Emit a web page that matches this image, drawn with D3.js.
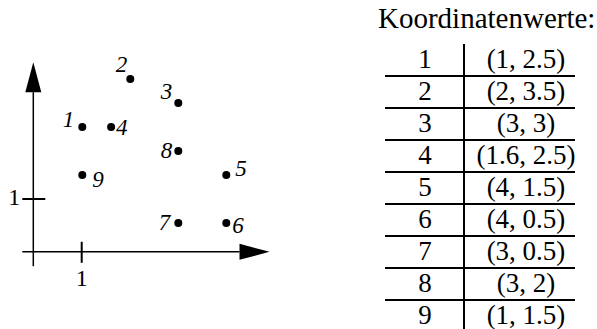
<!DOCTYPE html>
<html>
<head>
<meta charset="utf-8">
<script src="https://cdn.jsdelivr.net/npm/d3@7"></script>
<style>
	body { margin: 0; background: #fff; }
	svg { display: block; }
	text { font-family: "Liberation Serif", "Times New Roman", serif; fill: #000; }
</style>
</head>
<body>
<div id="main"></div>
<script>
// point numbers and their coordinates
var pointIds = [1, 2, 3, 4, 5, 6, 7, 8, 9];
var xValues = [1, 2, 3, 1.6, 4, 4, 3, 3, 1];
var yValues = [2.5, 3.5, 3, 2.5, 1.5, 0.5, 0.5, 2, 1.5];

// tick labels on both axes
var xTicks = [1];
var yTicks = [1];

var tableTitle = "Koordinatenwerte:";

// layout only: where each number sits next to its dot (dx, dy, anchor)
var LABEL_OFFSETS = [
	[-8, 0, "end"], [-3, -7, "end"], [-6, -4, "end"],
	[5, 8, "start"], [9, 1, "start"], [6, 10, "start"],
	[-8, 7, "end"], [-6, 7, "end"], [10, 12, "start"]
];

var width = 597, height = 329;

var svg = d3.select("#main").append("svg")
	.attr("width", width)
	.attr("height", height);

// scales for the little coordinate system
var x = d3.scaleLinear().domain([0, 4]).range([34.3, 226.3]);
var y = d3.scaleLinear().domain([0, 4]).range([247, 55]);

var xExtent = [-0.25, 4.9],	// axis lines, data units
	yExtent = [-0.4, 3.85],
	axisX0 = x(0) - 1,
	axisY0 = y(-0.1);
var ARROW_LEN = 30, ARROW_HALF = 8;

var g = svg.append("g");

// x axis with arrow
g.append("line")
	.attr("x1", x(xExtent[0])).attr("x2", x(xExtent[1]) - ARROW_LEN)
	.attr("y1", axisY0).attr("y2", axisY0)
	.style("stroke", "#000").style("stroke-width", 1.5);
g.append("path")
	.attr("d", "M" + x(xExtent[1]) + "," + axisY0 +
		"L" + (x(xExtent[1]) - ARROW_LEN) + "," + (axisY0 - ARROW_HALF) +
		"L" + (x(xExtent[1]) - ARROW_LEN) + "," + (axisY0 + ARROW_HALF) + "Z")
	.style("fill", "#000");

// y axis with arrow
g.append("line")
	.attr("x1", axisX0).attr("x2", axisX0)
	.attr("y1", y(yExtent[0])).attr("y2", y(yExtent[1]) + ARROW_LEN)
	.style("stroke", "#000").style("stroke-width", 1.5);
g.append("path")
	.attr("d", "M" + axisX0 + "," + y(yExtent[1]) +
		"L" + (axisX0 - ARROW_HALF) + "," + (y(yExtent[1]) + ARROW_LEN) +
		"L" + (axisX0 + ARROW_HALF) + "," + (y(yExtent[1]) + ARROW_LEN) + "Z")
	.style("fill", "#000");

// ticks cross the axes on both sides
g.selectAll(".xtick").data(xTicks).enter().append("line")
	.attr("class", "xtick")
	.attr("x1", function(d) { return x(d) - 0.6; }).attr("x2", function(d) { return x(d) - 0.6; })
	.attr("y1", axisY0 - 10).attr("y2", axisY0 + 11)
	.style("stroke", "#000").style("stroke-width", 2);
g.selectAll(".xlabel").data(xTicks).enter().append("text")
	.attr("x", function(d) { return x(d) - 0.6; })
	.attr("y", axisY0 + 34)
	.attr("text-anchor", "middle")
	.style("font-size", "24px")
	.text(function(d) { return d; });

g.selectAll(".ytick").data(yTicks).enter().append("line")
	.attr("class", "ytick")
	.attr("x1", axisX0 - 11).attr("x2", axisX0 + 12)
	.attr("y1", function(d) { return y(d); }).attr("y2", function(d) { return y(d); })
	.style("stroke", "#000").style("stroke-width", 2);
g.selectAll(".ylabel").data(yTicks).enter().append("text")
	.attr("x", axisX0 - 13)
	.attr("y", function(d) { return y(d) + 6; })
	.attr("text-anchor", "end")
	.style("font-size", "24px")
	.text(function(d) { return d; });

// the dots and their italic numbers
var points = pointIds.map(function(id, i) {
	return {id: id, x: xValues[i], y: yValues[i], off: LABEL_OFFSETS[i]};
});

var node = g.selectAll(".pt").data(points).enter().append("g")
	.attr("class", "pt")
	.attr("transform", function(d) { return "translate(" + x(d.x) + "," + y(d.y) + ")"; });

node.append("circle")
	.attr("r", 4)
	.style("fill", "#000");

node.append("text")
	.attr("x", function(d) { return d.off[0]; })
	.attr("y", function(d) { return d.off[1]; })
	.attr("text-anchor", function(d) { return d.off[2]; })
	.style("font-size", "23px")
	.style("font-style", "italic")
	.text(function(d) { return d.id; });

// table on the right
var TABLE_LEFT = 385, TABLE_RIGHT = 575, DIVIDER = 464;
var row = d3.scaleBand().domain(pointIds).range([44, 44 + 32 * pointIds.length]);

var t = svg.append("g");

t.append("text")
	.attr("x", 378)
	.attr("y", 28)
	.style("font-size", "29px")
	.text(tableTitle);

t.append("line")
	.attr("x1", DIVIDER).attr("x2", DIVIDER)
	.attr("y1", row.range()[0]).attr("y2", row.range()[1])
	.style("stroke", "#000").style("stroke-width", 2);

t.selectAll(".rule").data(pointIds.slice(0, -1)).enter().append("line")
	.attr("class", "rule")
	.attr("x1", TABLE_LEFT).attr("x2", TABLE_RIGHT)
	.attr("y1", function(d) { return row(d) + row.bandwidth(); })
	.attr("y2", function(d) { return row(d) + row.bandwidth(); })
	.style("stroke", "#000").style("stroke-width", 2);

var rows = t.selectAll(".row").data(points).enter().append("g")
	.attr("class", "row")
	.attr("transform", function(d) { return "translate(0," + (row(d.id) + 24) + ")"; });

rows.append("text")
	.attr("x", 425)
	.attr("text-anchor", "middle")
	.style("font-size", "27px")
	.text(function(d) { return d.id; });

rows.append("text")
	.attr("x", 526)
	.attr("text-anchor", "middle")
	.style("font-size", "27px")
	.text(function(d) { return "(" + d.x + ", " + d.y + ")"; });
</script>
</body>
</html>
